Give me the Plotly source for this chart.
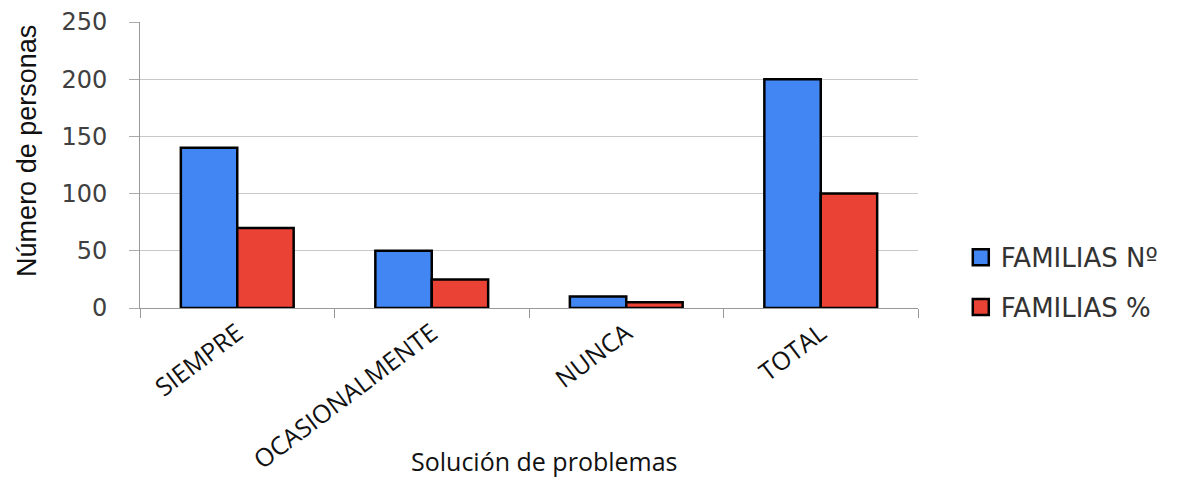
import plotly.graph_objects as go

categories = ["SIEMPRE", "OCASIONALMENTE", "NUNCA", "TOTAL"]
familias_n = [140, 50, 10, 200]
familias_pct = [70, 25, 5, 100]
series_names = ["FAMILIAS Nº", "FAMILIAS %"]
series_colors = ["#4286f4", "#ea4335"]
y_ticks = [0, 50, 100, 150, 200, 250]

fig = go.Figure()
for vals, name, col in zip([familias_n, familias_pct], series_names, series_colors):
    fig.add_trace(go.Bar(x=categories, y=vals, name=name, showlegend=False,
                         marker=dict(color=col, line=dict(color="#000000", width=2.5))))
# legend-only entries with larger square swatches
for name, col in zip(series_names, series_colors):
    fig.add_trace(go.Scatter(x=[None], y=[None], mode="markers", name=name,
                             legendgroup=name,
                             marker=dict(symbol="square", size=20, color=col,
                                         line=dict(color="#000000", width=2.5))))

fig.update_layout(
    width=1187, height=479,
    margin=dict(l=132, r=277, t=14, b=179),
    paper_bgcolor="white", plot_bgcolor="white",
    barmode="group", bargap=0.42, bargroupgap=0,
    legend=dict(x=1.055, xanchor="left", y=0.09, yanchor="middle",
                font=dict(family="DejaVu Sans", size=26, color="#333333"),
                traceorder="grouped", tracegroupgap=13, itemwidth=30,
                bgcolor="rgba(0,0,0,0)"),
    xaxis=dict(type="category", tickson="boundaries", ticks="outside", ticklen=9,
               tickcolor="#999999", showline=True, linecolor="#999999", linewidth=1,
               showgrid=False, tickangle=-37, automargin=False,
               tickfont=dict(family="Open Sans", size=25, color="#111111")),
    yaxis=dict(range=[0, 250], tickvals=y_ticks, ticks="outside", ticklen=10,
               tickcolor="#aaaaaa", showline=True, linecolor="#999999", linewidth=1,
               showgrid=True, gridcolor="#c8c8c8", gridwidth=1, zeroline=False,
               ticklabelstandoff=17, automargin=False,
               tickfont=dict(family="DejaVu Sans", size=24, color="#404040")),
    annotations=[
        dict(text="Número de personas", textangle=-90, xref="paper", yref="paper",
             x=-0.145, y=0.55, xanchor="center", yanchor="middle", showarrow=False,
             font=dict(family="Liberation Sans", size=27, color="#111111")),
        dict(text="Solución de problemas", xref="paper", yref="paper",
             x=0.52, y=-0.535, xanchor="center", yanchor="middle", showarrow=False,
             font=dict(family="Open Sans", size=25, color="#111111")),
    ],
)

fig.write_html("out.html")
